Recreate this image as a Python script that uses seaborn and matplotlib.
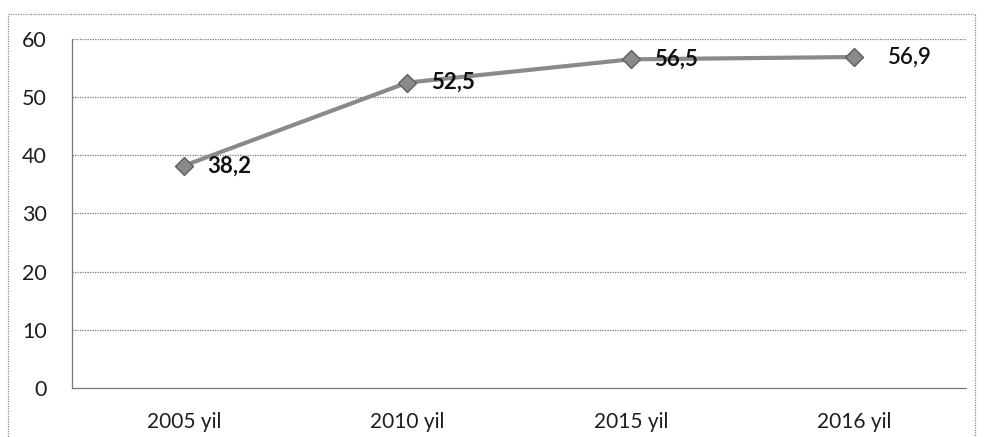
import numpy as np
import pandas as pd
import seaborn as sns
import matplotlib.pyplot as plt
from matplotlib.patches import Rectangle

years = ["2005 yil", "2010 yil", "2015 yil", "2016 yil"]
values = [38.2, 52.5, 56.5, 56.9]
value_labels = ["38,2", "52,5", "56,5", "56,9"]
y_ticks = [0, 10, 20, 30, 40, 50, 60]

sns.set_theme(style="white")
plt.rcParams['font.family'] = ['Lato', 'DejaVu Sans']

df = pd.DataFrame({"year": years, "value": values})

fig = plt.figure(figsize=(9.84, 4.37), dpi=100)
ax = fig.add_axes([0.0732, 0.1121, 0.9085, 0.7987])

sns.lineplot(data=df, x="year", y="value", ax=ax, color="#8a8a8a", lw=3,
             marker="D", markersize=9, markeredgecolor="#5e5e5e",
             markeredgewidth=1, sort=False)

ax.set_xlim(-0.5, len(years) - 0.5)
ax.set_ylim(0, 60)
ax.set_yticks(y_ticks)
ax.set_yticklabels([str(t) for t in y_ticks], fontsize=15.5, color="#1e1e1e")
ax.set_xticks(range(len(years)))
ax.set_xticklabels(years, fontsize=15, color="#1e1e1e")
ax.set_xticks(np.arange(-0.5, len(years)), minor=True)
ax.tick_params(axis="x", which="major", length=0, pad=17)
ax.tick_params(axis="x", which="minor", length=6, direction="inout", color="#888888", width=0.8)
ax.tick_params(axis="y", length=0, pad=18)
ax.set_xlabel("")
ax.set_ylabel("")

for y in y_ticks[1:]:
    ax.axhline(y, color="#777777", lw=0.9, ls=(0, (1, 1)), zorder=0)

for s in ["top", "right"]:
    ax.spines[s].set_visible(False)
for s in ["left", "bottom"]:
    ax.spines[s].set_color("#777777")
    ax.spines[s].set_linewidth(0.9)
    ax.spines[s].set_linestyle((0, (1, 1)))

# last label sits further out and looks a bit lighter in the scan
for i, (v, lab) in enumerate(zip(values, value_labels)):
    last = i == len(values) - 1
    ax.annotate(lab, (i, v), xytext=(24 if last else 17, 0), textcoords="offset points",
                ha="left", va="center", fontsize=16,
                fontweight="semibold" if last else "bold", color="#111111")

fig.patches.append(Rectangle((8 / 984, -0.05), 967 / 984, 1.05 - 14 / 437,
                             transform=fig.transFigure, fill=False,
                             edgecolor="#888888", lw=0.9, ls=(0, (1, 1))))

fig.savefig("out.png", dpi=100)
